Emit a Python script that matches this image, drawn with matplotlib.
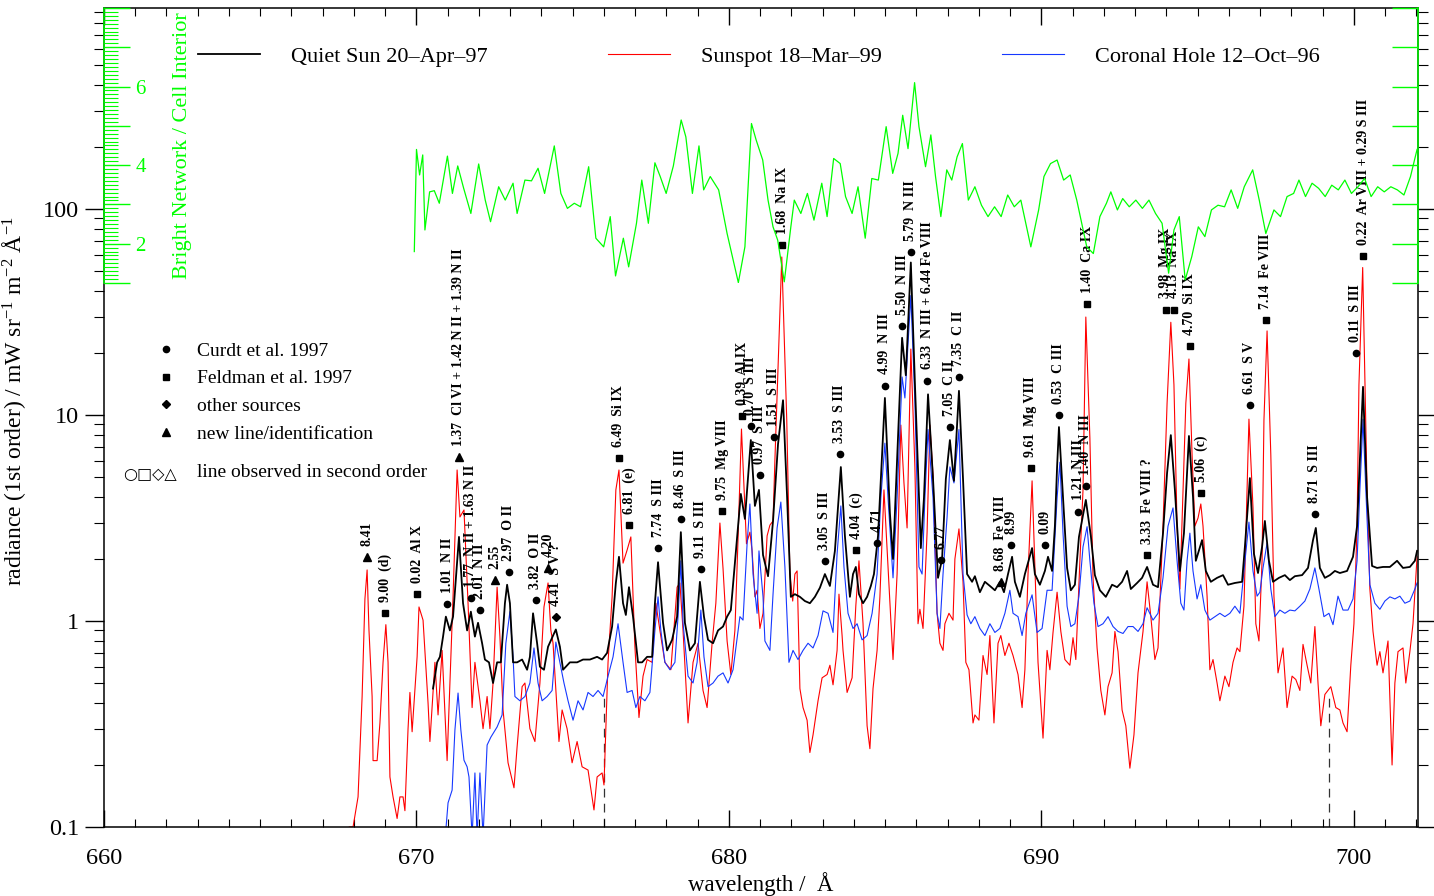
import numpy as np
import matplotlib
matplotlib.use("Agg")
import matplotlib.pyplot as plt
from matplotlib.lines import Line2D
from matplotlib.ticker import FixedLocator, MultipleLocator, FuncFormatter, NullFormatter

plt.rcParams['font.family'] = ['Liberation Serif', 'DejaVu Serif']
plt.rcParams['mathtext.fontset'] = 'custom'
plt.rcParams['mathtext.rm'] = 'Liberation Serif'
plt.rcParams['mathtext.it'] = 'Liberation Serif:italic'

GREEN = '#00ff00'
RED = '#ff0000'
BLUE = '#1638ff'

# ---- spectra (wavelength / A, radiance) ----
quiet_sun = [
    (670.53, 0.47), (670.66, 0.63), (670.75, 0.67), (670.85, 0.84), (670.94, 1.05), (671.07, 0.90),
    (671.17, 1.05), (671.36, 2.56), (671.49, 1.22), (671.62, 0.90), (671.74, 1.11), (671.87, 0.84),
    (671.97, 0.98), (672.10, 0.78), (672.19, 0.65), (672.32, 0.63), (672.45, 0.50), (672.58, 0.63),
    (672.70, 0.63), (672.83, 1.22), (672.90, 1.50), (672.99, 1.22), (673.09, 0.63), (673.22, 0.63),
    (673.38, 0.65), (673.54, 0.58), (673.63, 0.67), (673.73, 1.09), (673.86, 0.78), (673.95, 0.60),
    (674.08, 0.58), (674.21, 0.75), (674.46, 0.91), (674.59, 0.75), (674.69, 0.58), (674.91, 0.63),
    (675.14, 0.63), (675.33, 0.65), (675.55, 0.65), (675.78, 0.67), (675.94, 0.65), (676.10, 0.70),
    (676.26, 0.94), (676.38, 1.53), (676.48, 2.05), (676.61, 1.22), (676.70, 1.07), (676.80, 1.46),
    (676.93, 1.05), (677.09, 0.63), (677.22, 0.63), (677.38, 0.67), (677.54, 0.67), (677.63, 1.22),
    (677.73, 1.93), (677.89, 0.98), (678.02, 0.72), (678.18, 0.81), (678.34, 1.05), (678.46, 2.70),
    (678.59, 0.98), (678.75, 0.72), (678.91, 0.78), (679.07, 1.55), (679.20, 1.05), (679.33, 0.81),
    (679.49, 0.78), (679.65, 0.90), (679.81, 0.94), (679.94, 1.05), (680.06, 1.13), (680.19, 1.91),
    (680.38, 4.14), (680.51, 3.13), (680.70, 7.56), (680.83, 3.62), (680.96, 4.33), (681.09, 2.09),
    (681.25, 1.65), (681.41, 3.06), (681.57, 7.23), (681.73, 11.8), (681.86, 4.0), (681.98, 1.31),
    (682.11, 1.35), (682.27, 1.31), (682.43, 1.25), (682.59, 1.22), (682.75, 1.31), (682.91, 1.45),
    (683.07, 1.69), (683.23, 1.48), (683.39, 2.19), (683.58, 5.59), (683.71, 2.59), (683.87, 1.31),
    (683.97, 1.69), (684.06, 1.83), (684.16, 1.35), (684.29, 1.22), (684.42, 1.31), (684.54, 1.48),
    (684.64, 1.69), (684.77, 2.59), (684.99, 12.1), (685.15, 3.34), (685.25, 2.00), (685.38, 6.04),
    (685.54, 23.7), (685.66, 15.6), (685.82, 55.0), (685.95, 14.3), (686.14, 2.26), (686.24, 3.96),
    (686.37, 12.6), (686.53, 4.89), (686.69, 1.62), (686.82, 2.00), (686.94, 4.89), (687.07, 7.56),
    (687.20, 4.79), (687.36, 13.1), (687.49, 4.89), (687.62, 1.69), (687.78, 1.55), (687.87, 1.65),
    (688.03, 1.38), (688.19, 1.55), (688.35, 1.48), (688.51, 1.41), (688.67, 1.55), (688.80, 1.38),
    (688.93, 1.69), (689.06, 2.05), (689.15, 1.55), (689.31, 1.31), (689.47, 1.69), (689.70, 2.26),
    (689.79, 1.69), (689.95, 1.50), (690.11, 1.75), (690.21, 2.05), (690.34, 1.75), (690.43, 2.89),
    (690.50, 5.59), (690.56, 8.74), (690.69, 4.0), (690.82, 1.81), (690.94, 1.41), (691.07, 1.50),
    (691.20, 2.56), (691.42, 3.87), (691.58, 2.59), (691.71, 1.67), (691.87, 1.41), (692.06, 1.31),
    (692.26, 1.50), (692.42, 1.46), (692.58, 1.55), (692.74, 1.75), (692.86, 1.43), (693.06, 1.53),
    (693.22, 1.62), (693.38, 1.83), (693.57, 1.50), (693.73, 1.46), (693.89, 2.67), (694.02, 5.23),
    (694.14, 7.99), (694.27, 4.33), (694.43, 1.75), (694.56, 2.67), (694.72, 7.91), (694.85, 4.0),
    (694.94, 1.96), (695.14, 2.47), (695.26, 1.75), (695.42, 1.55), (695.62, 1.62), (695.81, 1.67),
    (695.97, 1.50), (696.19, 1.53), (696.42, 1.55), (696.51, 2.29), (696.67, 4.94), (696.80, 2.12),
    (696.93, 1.71), (697.06, 2.29), (697.15, 3.06), (697.28, 1.96), (697.41, 1.55), (697.60, 1.62),
    (697.79, 1.67), (697.95, 1.58), (698.11, 1.65), (698.34, 1.67), (698.53, 1.81), (698.69, 2.47),
    (698.78, 2.83), (698.91, 1.81), (699.07, 1.62), (699.23, 1.67), (699.39, 1.75), (699.55, 1.71),
    (699.78, 1.75), (699.97, 2.05), (700.10, 2.89), (700.29, 13.7), (700.42, 4.0), (700.58, 1.85),
    (700.74, 1.81), (700.93, 1.83), (701.15, 1.83), (701.38, 1.96), (701.57, 1.81), (701.79, 1.83),
    (701.95, 1.96), (702.02, 2.19),
]

sunspot = [
    (667.85, 0.10), (667.97, 0.10), (668.13, 0.14), (668.26, 0.43), (668.35, 1.28), (668.42, 1.77),
    (668.48, 0.90), (668.58, 0.43), (668.61, 0.21), (668.74, 0.21), (668.83, 0.32), (668.93, 0.63),
    (669.02, 0.96), (669.09, 0.63), (669.15, 0.175), (669.25, 0.14), (669.38, 0.11), (669.47, 0.14),
    (669.57, 0.14), (669.63, 0.12), (669.73, 0.30), (669.79, 0.45), (669.86, 0.29), (670.02, 0.67),
    (670.08, 1.17), (670.21, 1.01), (670.37, 0.40), (670.43, 0.26), (670.59, 0.63), (670.69, 0.35),
    (670.82, 0.72), (670.98, 0.21), (671.07, 0.50), (671.17, 1.31), (671.30, 5.41), (671.39, 3.20),
    (671.52, 3.46), (671.65, 1.22), (671.78, 0.38), (671.87, 0.63), (672.03, 0.41), (672.13, 0.30),
    (672.26, 0.43), (672.35, 0.30), (672.45, 0.50), (672.58, 1.46), (672.67, 0.84), (672.77, 0.37),
    (672.93, 0.205), (673.12, 0.155), (673.22, 0.245), (673.38, 0.48), (673.47, 0.50), (673.63, 0.30),
    (673.79, 0.26), (673.95, 0.50), (674.08, 1.17), (674.21, 1.53), (674.30, 0.90), (674.37, 0.78),
    (674.56, 0.26), (674.66, 0.37), (674.82, 0.30), (674.98, 0.205), (675.14, 0.26), (675.30, 0.196),
    (675.49, 0.189), (675.68, 0.121), (675.78, 0.175), (675.94, 0.183), (676.00, 0.16), (676.13, 0.63),
    (676.26, 1.31), (676.38, 4.33), (676.48, 5.41), (676.61, 1.91), (676.74, 2.21), (676.86, 2.56),
    (676.99, 0.75), (677.12, 0.34), (677.25, 0.54), (677.38, 0.65), (677.54, 0.63), (677.66, 1.22),
    (677.79, 0.90), (677.95, 0.63), (678.14, 0.58), (678.34, 1.46), (678.43, 1.53), (678.53, 0.90),
    (678.69, 0.32), (678.85, 0.63), (679.01, 0.78), (679.17, 0.46), (679.30, 0.38), (679.46, 0.78),
    (679.58, 1.22), (679.71, 2.99), (679.81, 1.80), (679.94, 0.80), (680.06, 0.55), (680.19, 0.90),
    (680.29, 2.50), (680.40, 8.55), (680.56, 2.37), (680.67, 2.70), (680.74, 2.19), (680.83, 1.31),
    (680.90, 1.41), (680.99, 0.92), (681.09, 1.09), (681.22, 2.59), (681.31, 2.92), (681.41, 3.06),
    (681.47, 6.04), (681.69, 58.5), (681.85, 9.35), (681.95, 1.69), (682.04, 1.25), (682.11, 1.69),
    (682.18, 1.75), (682.27, 0.47), (682.37, 0.38), (682.50, 0.33), (682.59, 0.23), (682.69, 0.28),
    (682.85, 0.41), (682.98, 0.53), (683.14, 0.55), (683.23, 0.61), (683.33, 0.49), (683.46, 0.72),
    (683.52, 1.35), (683.62, 0.85), (683.65, 0.72), (683.78, 0.45), (683.94, 0.53), (684.06, 1.19),
    (684.16, 1.96), (684.29, 0.97), (684.42, 0.31), (684.51, 0.24), (684.61, 0.47), (684.74, 0.72),
    (684.83, 1.31), (684.96, 4.33), (685.09, 1.83), (685.18, 1.01), (685.25, 0.65), (685.38, 1.69),
    (685.50, 8.94), (685.60, 4.68), (685.70, 2.83), (685.82, 20.9), (685.95, 5.59), (686.05, 0.97),
    (686.11, 1.14), (686.21, 0.92), (686.34, 2.70), (686.43, 8.94), (686.53, 5.11), (686.66, 1.09),
    (686.75, 0.78), (686.85, 0.72), (686.91, 0.97), (687.04, 1.09), (687.17, 1.01), (687.23, 2.00),
    (687.36, 2.80), (687.49, 1.55), (687.58, 0.63), (687.68, 0.58), (687.81, 0.32), (687.87, 0.35),
    (688.00, 0.33), (688.13, 0.68), (688.26, 0.55), (688.35, 0.85), (688.48, 0.32), (688.61, 0.78),
    (688.70, 0.85), (688.83, 0.68), (688.96, 0.78), (689.09, 0.68), (689.25, 0.55), (689.38, 0.38),
    (689.47, 0.58), (689.57, 1.69), (689.70, 4.79), (689.79, 1.83), (689.89, 0.63), (690.05, 0.27),
    (690.18, 0.72), (690.27, 0.58), (690.37, 0.88), (690.50, 1.38), (690.62, 0.89), (690.75, 0.65),
    (690.91, 0.61), (691.01, 0.83), (691.10, 0.65), (691.23, 1.96), (691.33, 4.33), (691.42, 29.9),
    (691.55, 7.73), (691.65, 1.62), (691.78, 0.74), (691.90, 0.46), (692.03, 0.35), (692.13, 0.48),
    (692.26, 0.56), (692.35, 0.89), (692.45, 0.71), (692.58, 0.37), (692.70, 0.31), (692.83, 0.193),
    (692.96, 0.28), (693.09, 0.56), (693.25, 0.89), (693.38, 1.55), (693.50, 1.05), (693.63, 0.65),
    (693.73, 0.74), (693.89, 2.89), (694.02, 11.4), (694.14, 28.2), (694.24, 14.0), (694.34, 2.89),
    (694.43, 1.43), (694.53, 4.33), (694.62, 11.4), (694.72, 18.7), (694.82, 6.39), (694.91, 2.89),
    (695.01, 3.16), (695.10, 3.70), (695.17, 2.89), (695.30, 1.32), (695.39, 0.58), (695.49, 0.65),
    (695.62, 0.50), (695.71, 0.41), (695.87, 0.54), (696.00, 0.48), (696.13, 0.63), (696.26, 0.74),
    (696.35, 0.71), (696.48, 1.18), (696.64, 9.55), (696.77, 3.54), (696.86, 0.97), (696.96, 0.80),
    (697.06, 1.96), (697.12, 9.45), (697.22, 25.6), (697.34, 6.39), (697.44, 1.32), (697.57, 0.56),
    (697.73, 0.74), (697.86, 0.38), (698.02, 0.54), (698.14, 0.52), (698.27, 0.46), (698.37, 0.77),
    (698.50, 0.61), (698.62, 0.50), (698.75, 0.94), (698.85, 0.50), (698.94, 0.31), (699.07, 0.44),
    (699.26, 0.48), (699.42, 0.38), (699.55, 0.37), (699.65, 0.32), (699.78, 0.29), (699.90, 0.61),
    (700.00, 0.97), (700.10, 2.89), (700.16, 14.0), (700.28, 52.0), (700.42, 4.33), (700.51, 1.43),
    (700.61, 0.89), (700.74, 0.61), (700.83, 0.71), (700.93, 0.56), (701.09, 0.80), (701.22, 0.20),
    (701.31, 0.50), (701.41, 0.71), (701.57, 0.74), (701.66, 0.50), (701.79, 0.71), (701.89, 0.97),
    (702.02, 2.05),
]

coronal_hole = [
    (670.85, 0.09), (670.94, 0.097), (671.01, 0.131), (671.14, 0.151), (671.23, 0.296), (671.33, 0.447),
    (671.42, 0.296), (671.52, 0.211), (671.62, 0.196), (671.68, 0.175), (671.78, 0.09), (671.87, 0.183),
    (671.94, 0.09), (672.03, 0.183), (672.13, 0.09), (672.26, 0.25), (672.38, 0.273), (672.58, 0.306),
    (672.74, 0.35), (672.86, 0.78), (672.99, 1.11), (673.09, 0.67), (673.15, 0.43), (673.31, 0.41),
    (673.47, 0.43), (673.63, 0.50), (673.76, 0.74), (673.89, 0.50), (674.02, 0.41), (674.18, 0.43),
    (674.34, 0.46), (674.46, 0.79), (674.59, 0.63), (674.72, 0.50), (674.85, 0.41), (675.01, 0.33),
    (675.17, 0.41), (675.33, 0.37), (675.49, 0.45), (675.65, 0.43), (675.81, 0.46), (675.97, 0.43),
    (676.13, 0.54), (676.29, 0.67), (676.45, 0.97), (676.61, 0.63), (676.74, 0.45), (676.90, 0.46),
    (677.02, 0.38), (677.15, 0.43), (677.31, 0.41), (677.47, 0.45), (677.63, 0.90), (677.73, 1.31),
    (677.82, 0.90), (677.95, 0.63), (678.11, 0.58), (678.27, 0.63), (678.37, 1.05), (678.46, 1.96),
    (678.53, 0.98), (678.69, 0.54), (678.85, 0.50), (678.98, 0.63), (679.10, 1.13), (679.20, 0.67),
    (679.33, 0.48), (679.49, 0.50), (679.65, 0.54), (679.81, 0.56), (679.97, 0.50), (680.13, 0.58),
    (680.35, 1.05), (680.45, 1.01), (680.58, 2.37), (680.67, 3.70), (680.77, 1.69), (680.90, 1.09),
    (680.96, 2.19), (681.09, 1.31), (681.15, 0.80), (681.31, 0.72), (681.41, 1.35), (681.54, 2.83),
    (681.66, 3.78), (681.79, 1.83), (681.92, 0.63), (682.05, 0.72), (682.21, 0.65), (682.37, 0.72),
    (682.53, 0.78), (682.69, 0.74), (682.85, 0.85), (683.01, 1.12), (683.17, 1.09), (683.33, 0.88),
    (683.46, 2.12), (683.58, 3.62), (683.68, 1.83), (683.81, 1.09), (683.97, 0.92), (684.10, 0.97),
    (684.26, 0.81), (684.42, 0.85), (684.58, 1.09), (684.74, 1.69), (684.86, 3.96), (684.99, 7.3),
    (685.09, 3.96), (685.25, 1.62), (685.38, 3.96), (685.54, 15.3), (685.63, 12.1), (685.82, 38.0),
    (685.95, 11.6), (686.08, 1.83), (686.18, 1.69), (686.27, 3.96), (686.37, 8.5), (686.53, 3.96),
    (686.66, 1.09), (686.75, 0.92), (686.85, 1.69), (686.98, 3.20), (687.07, 5.6), (687.20, 4.68),
    (687.36, 8.5), (687.49, 1.69), (687.62, 1.07), (687.74, 0.97), (687.87, 1.05), (688.03, 0.92),
    (688.19, 0.85), (688.35, 0.97), (688.51, 0.88), (688.67, 0.92), (688.83, 1.09), (688.99, 1.41),
    (689.09, 1.09), (689.25, 1.05), (689.38, 0.85), (689.50, 1.09), (689.70, 1.34), (689.86, 0.88),
    (690.02, 0.92), (690.18, 1.41), (690.34, 1.41), (690.50, 3.96), (690.59, 5.9), (690.69, 2.67),
    (690.82, 1.18), (690.94, 0.94), (691.07, 0.97), (691.20, 1.32), (691.33, 2.29), (691.46, 2.87),
    (691.55, 1.96), (691.68, 1.22), (691.81, 0.94), (691.97, 0.97), (692.13, 1.05), (692.29, 0.94),
    (692.45, 0.89), (692.61, 0.87), (692.77, 0.94), (692.93, 0.94), (693.09, 0.89), (693.25, 0.97),
    (693.38, 1.16), (693.57, 1.01), (693.73, 1.09), (693.89, 1.62), (694.05, 2.89), (694.21, 3.54),
    (694.34, 1.96), (694.46, 1.22), (694.56, 1.13), (694.66, 1.96), (694.75, 2.67), (694.85, 1.75),
    (694.98, 1.28), (695.10, 1.50), (695.23, 1.13), (695.39, 1.01), (695.55, 1.05), (695.71, 1.09),
    (695.87, 1.05), (696.03, 1.09), (696.19, 1.18), (696.35, 1.09), (696.48, 1.75), (696.64, 3.02),
    (696.77, 1.75), (696.90, 1.32), (696.99, 1.38), (697.09, 1.81), (697.22, 2.39), (697.34, 1.43),
    (697.47, 1.05), (697.63, 1.13), (697.79, 1.09), (697.95, 1.13), (698.11, 1.12), (698.27, 1.18),
    (698.43, 1.25), (698.59, 1.43), (698.75, 1.81), (698.88, 1.43), (699.04, 1.05), (699.20, 1.09),
    (699.33, 0.96), (699.49, 1.32), (699.65, 1.13), (699.81, 1.13), (699.97, 1.28), (700.10, 1.96),
    (700.19, 4.33), (700.29, 9.55), (700.38, 4.33), (700.51, 1.50), (700.67, 1.22), (700.83, 1.14),
    (700.99, 1.25), (701.15, 1.31), (701.31, 1.28), (701.47, 1.32), (701.63, 1.22), (701.79, 1.25),
    (701.95, 1.43), (702.02, 1.53),
]

# bright network / cell interior ratio
bn_ci_ratio = [
    (669.93, 1.80), (670.00, 4.40), (670.10, 3.75), (670.20, 4.26), (670.27, 2.35), (670.42, 3.32),
    (670.57, 3.35), (670.73, 3.03), (670.99, 4.23), (671.15, 3.28), (671.32, 3.98), (671.51, 3.41),
    (671.74, 2.77), (671.99, 4.03), (672.20, 3.11), (672.37, 2.56), (672.63, 3.45), (672.84, 3.11),
    (673.09, 3.54), (673.22, 2.77), (673.47, 3.62), (673.68, 3.60), (673.89, 3.92), (674.10, 3.28),
    (674.41, 4.49), (674.62, 3.28), (674.83, 2.90), (675.05, 3.03), (675.25, 2.94), (675.51, 3.96),
    (675.74, 2.14), (675.99, 1.92), (676.20, 2.69), (676.37, 1.18), (676.62, 2.14), (676.79, 1.41),
    (677.04, 2.52), (677.21, 3.62), (677.42, 2.52), (677.63, 4.06), (677.80, 3.71), (677.99, 3.28),
    (678.22, 3.98), (678.47, 5.15), (678.62, 4.72), (678.83, 3.28), (679.04, 4.49), (679.19, 3.37),
    (679.40, 3.71), (679.67, 3.37), (679.94, 2.26), (680.30, 1.01), (680.51, 1.92), (680.72, 5.06),
    (680.87, 4.64), (681.08, 4.13), (681.25, 3.11), (681.41, 2.43), (681.56, 2.09), (681.77, 1.03),
    (681.98, 2.43), (682.09, 3.11), (682.30, 2.77), (682.51, 3.28), (682.72, 2.60), (682.97, 3.54),
    (683.14, 2.69), (683.35, 4.17), (683.56, 4.04), (683.73, 3.20), (683.94, 2.77), (684.13, 3.45),
    (684.36, 2.14), (684.57, 3.66), (684.78, 3.62), (685.03, 4.98), (685.24, 3.79), (685.41, 4.30),
    (685.56, 5.27), (685.73, 4.42), (685.94, 6.10), (686.08, 4.98), (686.29, 3.96), (686.46, 4.77),
    (686.61, 3.71), (686.78, 2.69), (686.97, 3.88), (687.13, 3.62), (687.30, 4.21), (687.47, 4.55),
    (687.66, 3.11), (687.87, 3.45), (688.08, 2.98), (688.29, 2.69), (688.50, 2.94), (688.71, 2.69),
    (688.92, 3.24), (689.13, 2.94), (689.34, 3.11), (689.66, 1.92), (689.91, 2.86), (690.08, 3.71),
    (690.29, 4.04), (690.50, 4.13), (690.71, 3.62), (690.92, 3.75), (691.13, 3.11), (691.45, 1.92),
    (691.66, 1.75), (691.87, 2.69), (692.08, 3.03), (692.22, 3.32), (692.43, 2.86), (692.60, 3.15),
    (692.81, 2.94), (693.02, 3.11), (693.23, 2.90), (693.44, 3.11), (693.65, 2.77), (693.86, 2.52),
    (694.07, 1.25), (694.24, 2.35), (694.41, 2.69), (694.60, 1.08), (694.81, 1.67), (695.02, 2.43),
    (695.23, 2.18), (695.44, 2.86), (695.65, 2.98), (695.86, 2.94), (696.07, 3.37), (696.28, 2.90),
    (696.49, 3.45), (696.76, 3.88), (696.97, 3.11), (697.18, 2.26), (697.44, 2.86), (697.65, 2.69),
    (697.86, 3.20), (698.07, 3.28), (698.24, 3.62), (698.45, 3.20), (698.66, 3.54), (698.87, 3.41),
    (699.08, 3.20), (699.29, 3.49), (699.50, 3.37), (699.71, 3.62), (699.92, 3.28), (700.13, 3.45),
    (700.34, 3.66), (700.55, 3.20), (700.76, 3.45), (700.97, 3.32), (701.18, 3.45), (701.39, 3.37),
    (701.60, 3.24), (701.81, 3.71), (702.02, 4.40),
]

# line identifications: wavelength, radiance of marker, source, label
line_ids = [
    (668.42, 2.05, 'new', '8.41'),
    (668.99, 1.09, 'feldman', '9.00  (d)'),
    (670.02, 1.35, 'feldman', '0.02  Al X'),
    (670.98, 1.21, 'curdt', '1.01  N II'),
    (671.36, 6.24, 'new', '1.37  Cl VI + 1.42 N II + 1.39 N II'),
    (671.74, 1.29, 'curdt', '1.77  N II + 1.63 N II'),
    (672.03, 1.13, 'curdt', '2.01  N II'),
    (672.51, 1.58, 'new', '2.55'),
    (672.96, 1.73, 'curdt', '2.97  O II'),
    (673.82, 1.26, 'curdt', '3.82  O II'),
    (674.21, 1.81, 'new', '4.20'),
    (674.46, 1.04, 'other', '4.41  S V ?'),
    (676.48, 6.20, 'feldman', '6.49  Si IX'),
    (676.80, 2.93, 'feldman', '6.81  (e)'),
    (677.73, 2.26, 'curdt', '7.74  S III'),
    (678.46, 3.14, 'curdt', '8.46  S III'),
    (679.10, 1.79, 'curdt', '9.11  S III'),
    (679.78, 3.42, 'feldman', '9.75  Mg VIII'),
    (680.42, 9.86, 'feldman', '0.39  Al IX'),
    (680.70, 8.80, 'curdt', '0.70  S III'),
    (680.99, 5.10, 'curdt', '0.97  S III'),
    (681.44, 7.80, 'curdt', '1.51  S III'),
    (681.70, 67.0, 'feldman', '1.68  Na IX'),
    (683.07, 1.95, 'curdt', '3.05  S III'),
    (683.55, 6.45, 'curdt', '3.53  S III'),
    (684.06, 2.22, 'feldman', '4.04  (c)'),
    (684.74, 2.39, 'curdt', '4.71'),
    (684.99, 13.9, 'curdt', '4.99  N III'),
    (685.54, 27.0, 'curdt', '5.50  N III'),
    (685.82, 62.0, 'curdt', '5.79  N III'),
    (686.34, 14.7, 'curdt', '6.33  N III + 6.44 Fe VIII'),
    (686.78, 1.97, 'curdt', '6.77'),
    (687.07, 8.70, 'curdt', '7.05  C II'),
    (687.36, 15.3, 'curdt', '7.35  C II'),
    (688.70, 1.54, 'new', '8.68  Fe VIII'),
    (689.02, 2.33, 'curdt', '8.99'),
    (689.66, 5.50, 'feldman', '9.61  Mg VIII'),
    (690.11, 2.33, 'curdt', '0.09'),
    (690.56, 10.0, 'curdt', '0.53  C III'),
    (691.17, 3.40, 'curdt', '1.21  N III'),
    (691.42, 4.50, 'curdt', '1.40  N III'),
    (691.46, 34.5, 'feldman', '1.40  Ca IX'),
    (693.38, 2.09, 'feldman', '3.33  Fe VIII ?'),
    (693.98, 32.5, 'feldman', '3.98  Mg IX'),
    (694.24, 32.5, 'feldman', '4.13  Na IX'),
    (694.75, 21.7, 'feldman', '4.70  Si IX'),
    (695.10, 4.17, 'feldman', '5.06  (c)'),
    (696.67, 11.2, 'curdt', '6.61  S V'),
    (697.18, 29.0, 'feldman', '7.14  Fe VIII'),
    (698.75, 3.30, 'curdt', '8.71  S III'),
    (700.06, 20.0, 'curdt', '0.11  S III'),
    (700.29, 59.0, 'feldman', '0.22  Ar VIII + 0.29 S III'),
]

source_names = ['curdt', 'feldman', 'other', 'new']
source_labels = ['Curdt et al. 1997', 'Feldman et al. 1997', 'other sources', 'new line/identification']
source_markers = {'curdt': ('o', 4.5), 'feldman': ('s', 5), 'other': ('D', 4), 'new': ('^', 5.5)}

series_labels = ['Quiet Sun 20\u2013Apr\u201397', 'Sunspot 18\u2013Mar\u201399', 'Coronal Hole 12\u2013Oct\u201396']
second_order_limits = [676.0, 699.2]
second_order_span = (0.1, 0.45)

# ---- figure ----
W, H = 1434, 896
fig = plt.figure(figsize=(W / 100, H / 100), dpi=100)
ax = fig.add_axes([104 / W, (H - 827) / H, 1314 / W, 819 / H])

qs = np.array(quiet_sun)
ss = np.array(sunspot)
ch = np.array(coronal_hole)

ax.plot(ss[:, 0], ss[:, 1], color=RED, lw=0.8, zorder=2)
ax.plot(ch[:, 0], ch[:, 1], color=BLUE, lw=0.8, zorder=2)
ax.plot(qs[:, 0], qs[:, 1], color='black', lw=1.3, zorder=3)

ax.vlines(second_order_limits, second_order_span[0], second_order_span[1],
          colors='#333333', linestyles=(0, (7, 5)), lw=0.9, zorder=1)

for wl, rad, src, lab in line_ids:
    mk, ms = source_markers[src]
    ax.plot([wl], [rad], marker=mk, ms=ms, color='black', ls='none', zorder=4)
    ax.annotate(lab, (wl, rad), xytext=(0, 8), textcoords='offset points',
                rotation=90, ha='center', va='bottom', fontsize=10, fontweight='bold')

ax.set_yscale('log')
ax.set_xlim(660, 702.05)
ax.set_ylim(0.1, 946)

ax.xaxis.set_major_locator(MultipleLocator(10))
ax.xaxis.set_minor_locator(MultipleLocator(1))
ax.yaxis.set_major_locator(FixedLocator([0.1, 1, 10, 100]))
ax.yaxis.set_major_formatter(FuncFormatter(lambda v, p: '%g' % v))
ax.yaxis.set_minor_formatter(NullFormatter())

ax.tick_params(axis='x', which='both', direction='in', top=True, bottom=True, labelsize=17.5, pad=15)
ax.tick_params(axis='x', which='major', length=12, width=1)
ax.tick_params(axis='x', which='minor', length=6, width=0.8)
ax.tick_params(axis='y', which='both', direction='out', left=True, right=True, labelsize=17.5, pad=4)
ax.tick_params(axis='y', which='major', length=14, width=1)
ax.tick_params(axis='y', which='minor', length=7, width=0.8)
for s in ax.spines.values():
    s.set_linewidth(1.1)

ax.set_xlabel('wavelength /  \u00c5', fontsize=16.5, labelpad=2)
ax.set_ylabel('radiance (1st order) / mW sr$^{-1}$ m$^{-2}$ \u00c5$^{-1}$', fontsize=17)
ax.yaxis.set_label_coords(-0.058, 0.52)

# series legend
h_series = [Line2D([], [], color='black', lw=1.3), Line2D([], [], color=RED, lw=0.8),
            Line2D([], [], color=BLUE, lw=0.8)]
leg1 = ax.legend(h_series, series_labels, loc='upper left', bbox_to_anchor=(0.0715, 0.953),
                 ncol=3, frameon=False, fontsize=16, handlelength=2.8, handletextpad=1.4,
                 columnspacing=5.4, borderpad=0, borderaxespad=0)
ax.add_artist(leg1)

# source legend
h_src = [Line2D([], [], marker=source_markers[s][0], ms=source_markers[s][1], color='black', ls='none')
         for s in source_names]
ax.legend(h_src, source_labels, loc='upper left', bbox_to_anchor=(0.040, 0.592), frameon=False,
          fontsize=14, handlelength=1.0, handletextpad=1.1, labelspacing=0.52, borderpad=0,
          borderaxespad=0)
ax.text(0.0145, 0.430, '\u25cb\u25a1\u25c7\u25b3', transform=ax.transAxes, fontsize=11.5,
        family='DejaVu Sans', va='center', ha='left')
ax.text(0.0708, 0.433, 'line observed in second order', transform=ax.transAxes, fontsize=14,
        va='center', ha='left')

# ratio axis
ax2 = fig.add_axes([104 / W, (H - 283) / H, 1314 / W, 275 / H])
ax2.patch.set_alpha(0)
rt = np.array(bn_ci_ratio)
ax2.plot(rt[:, 0], rt[:, 1], color=GREEN, lw=0.9)
ax2.set_xlim(660, 702.05)
ax2.set_ylim(1, 8)
ax2.xaxis.set_visible(False)
ax2.spines['top'].set_visible(False)
ax2.spines['bottom'].set_visible(False)
for side in ('left', 'right'):
    ax2.spines[side].set_color(GREEN)
    ax2.spines[side].set_linewidth(1.1)
ax2.yaxis.set_major_locator(MultipleLocator(1))
ax2.yaxis.set_minor_locator(MultipleLocator(0.1))
ax2.yaxis.set_major_formatter(FuncFormatter(lambda v, p: '%g' % v if round(v) in (2, 4, 6) else ''))
ax2.tick_params(axis='y', which='both', direction='in', left=True, right=True, colors=GREEN,
                labelcolor=GREEN)
ax2.tick_params(axis='y', which='major', length=19, width=1, pad=-30, labelsize=15)
ax2.tick_params(axis='y', which='minor', length=10, width=0.8, right=False)
ax2.text(0.060, 0.5, 'Bright Network / Cell Interior', transform=ax2.transAxes, rotation=90,
         ha='center', va='center', color=GREEN, fontsize=16)

fig.savefig('out.png', dpi=100)
